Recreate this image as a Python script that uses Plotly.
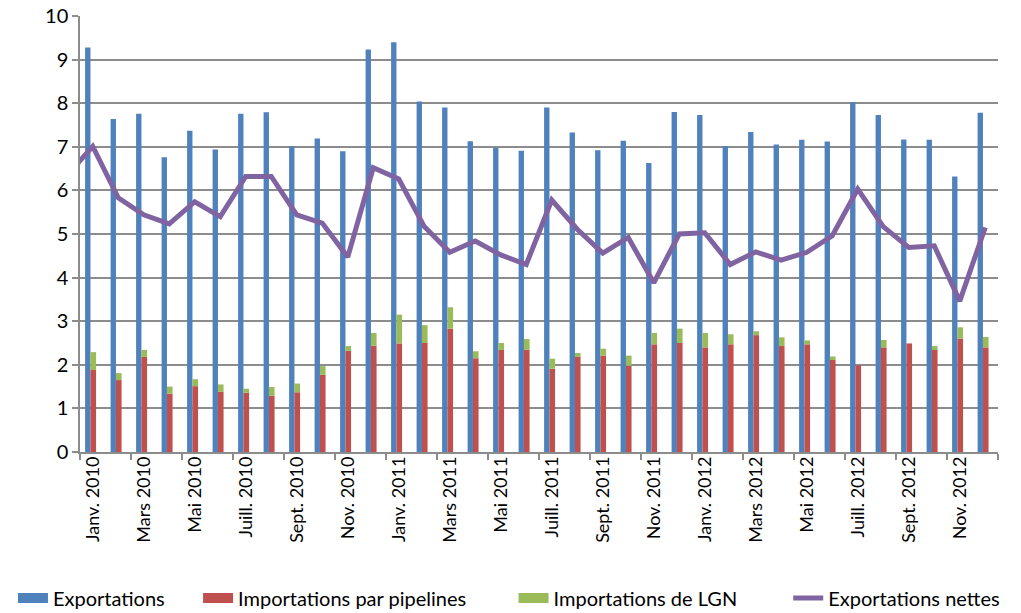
import plotly.graph_objects as go

months = ["Janv. 2010", "Févr. 2010", "Mars 2010", "Avr. 2010", "Mai 2010", "Juin 2010",
          "Juill. 2010", "Août 2010", "Sept. 2010", "Oct. 2010", "Nov. 2010", "Déc. 2010",
          "Janv. 2011", "Févr. 2011", "Mars 2011", "Avr. 2011", "Mai 2011", "Juin 2011",
          "Juill. 2011", "Août 2011", "Sept. 2011", "Oct. 2011", "Nov. 2011", "Déc. 2011",
          "Janv. 2012", "Févr. 2012", "Mars 2012", "Avr. 2012", "Mai 2012", "Juin 2012",
          "Juill. 2012", "Août 2012", "Sept. 2012", "Oct. 2012", "Nov. 2012", "Déc. 2012"]

exportations = [9.28, 7.64, 7.76, 6.76, 7.37, 6.94, 7.76, 7.79, 7.01, 7.19, 6.90, 9.23,
                9.40, 8.04, 7.90, 7.13, 6.98, 6.91, 7.90, 7.33, 6.92, 7.14, 6.63, 7.80,
                7.73, 7.02, 7.34, 7.05, 7.16, 7.12, 8.02, 7.73, 7.17, 7.16, 6.32, 7.78]

imp_pipelines = [1.88, 1.65, 2.18, 1.34, 1.51, 1.38, 1.36, 1.29, 1.37, 1.77, 2.32, 2.44,
                 2.49, 2.50, 2.83, 2.15, 2.34, 2.35, 1.91, 2.18, 2.21, 1.98, 2.47, 2.50,
                 2.40, 2.47, 2.68, 2.43, 2.47, 2.11, 1.99, 2.40, 2.49, 2.34, 2.60, 2.40]

imp_lgn = [0.41, 0.16, 0.16, 0.16, 0.16, 0.17, 0.09, 0.20, 0.20, 0.20, 0.11, 0.29,
           0.66, 0.41, 0.49, 0.16, 0.16, 0.24, 0.23, 0.09, 0.16, 0.23, 0.26, 0.33,
           0.33, 0.23, 0.09, 0.20, 0.09, 0.08, 0.00, 0.17, 0.00, 0.09, 0.26, 0.24]

# Net exports, starting with the preceding month (Déc. 2009), partly visible at the left edge
net_prev = 6.35
exp_nettes = [7.01, 5.83, 5.44, 5.23, 5.74, 5.40, 6.32, 6.32, 5.44, 5.25, 4.47, 6.52,
              6.26, 5.17, 4.58, 4.84, 4.52, 4.30, 5.78, 5.11, 4.56, 4.92, 3.88, 5.00,
              5.03, 4.30, 4.59, 4.40, 4.58, 4.96, 6.03, 5.17, 4.69, 4.73, 3.46, 5.15]

series_names = ["Exportations", "Importations par pipelines", "Importations de LGN",
                "Exportations nettes"]

idx = list(range(len(months)))
label_idx = idx[::2]
label_text = months[::2]
boundary_ticks = [i - 0.5 for i in range(0, len(months) + 1, 2)]

BLUE = "#4F81BD"
RED = "#C0504D"
GREEN = "#9BBB59"
PURPLE = "#8064A2"
GRID = "#8C8C8C"
FONT = "Lato"
colors = [BLUE, RED, GREEN, PURPLE]
legend_ids = ["legend", "legend2", "legend3", "legend4"]
legend_x = [0.0127, 0.194, 0.503, 0.772]

fig = go.Figure()
fig.add_trace(go.Bar(x=idx, y=exportations, name=series_names[0], marker_color=BLUE,
                     offset=-0.30, width=0.21, marker_line_width=0, showlegend=False))
fig.add_trace(go.Bar(x=idx, y=imp_pipelines, name=series_names[1], marker_color=RED,
                     offset=-0.09, width=0.22, marker_line_width=0, showlegend=False))
fig.add_trace(go.Bar(x=idx, y=imp_lgn, base=imp_pipelines, name=series_names[2],
                     marker_color=GREEN, offset=-0.09, width=0.22, marker_line_width=0,
                     showlegend=False))
fig.add_trace(go.Scatter(x=[-1] + idx, y=[net_prev] + exp_nettes, name=series_names[3],
                         mode="lines", line=dict(color=PURPLE, width=5), legend="legend4"))
# legend swatches for the bar series (wide rectangles, as in the original)
for k in range(3):
    fig.add_trace(go.Scatter(x=[None], y=[None], name=series_names[k], mode="lines",
                             line=dict(color=colors[k], width=12), legend=legend_ids[k],
                             hoverinfo="skip"))
# helper trace so the label axis renders
fig.add_trace(go.Scatter(x=[0], y=[0], xaxis="x2", mode="markers", marker=dict(opacity=0),
                         showlegend=False, hoverinfo="skip"))

legend_common = dict(orientation="h", xref="container", yref="container", xanchor="left",
                     y=0.0245, yanchor="middle", font=dict(family=FONT, size=20, color="#000000"),
                     bgcolor="rgba(0,0,0,0)")

fig.update_layout(
    width=1021, height=613,
    margin=dict(l=80, r=23, t=16, b=161, autoexpand=False),
    paper_bgcolor="white", plot_bgcolor="white",
    barmode="overlay",
    font=dict(family=FONT, size=18, color="#000000"),
    xaxis=dict(range=[-0.5, len(months) - 0.5], tickmode="array", tickvals=boundary_ticks,
               showticklabels=False, ticks="outside", ticklen=6, tickcolor=GRID, tickwidth=1.5,
               showline=True, linecolor=GRID, linewidth=1.5, showgrid=False, zeroline=False),
    xaxis2=dict(range=[-0.5, len(months) - 0.5], overlaying="x", anchor="y", side="bottom",
                tickmode="array", tickvals=label_idx, ticktext=label_text, tickangle=-90,
                ticks="", showline=False, showgrid=False, zeroline=False,
                tickfont=dict(family=FONT, size=18, color="#000000")),
    yaxis=dict(range=[0, 10], tickmode="array", tickvals=list(range(11)),
               ticks="outside", ticklen=6, tickcolor=GRID, tickwidth=1.5,
               showline=True, linecolor=GRID, linewidth=1.5, showgrid=True, gridcolor=GRID,
               gridwidth=1.5, zeroline=False, tickfont=dict(family=FONT, size=20, color="#000000")),
    showlegend=True,
)
for lid, lx in zip(legend_ids, legend_x):
    fig.update_layout({lid: dict(legend_common, x=lx)})

fig.write_html("out.html", config={"displayModeBar": False},
               post_script="document.body.style.margin = '0';")
